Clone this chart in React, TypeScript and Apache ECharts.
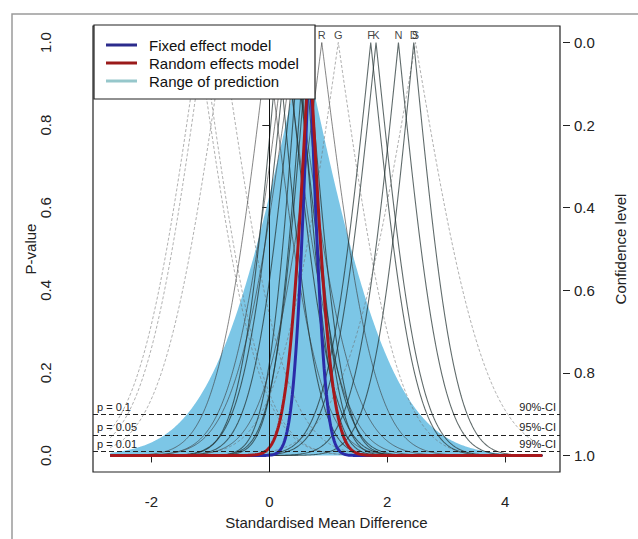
import React, { useEffect, useRef } from "react";
import * as echarts from "echarts";

// ---- data ----
// labels of studies whose peaks sit under the legend box are not visible in the picture
const studyLabels = ["", "", "", "", "", "", "", "", "", "", "", "", "R", "G", "F", "K", "N", "S", "D"];
const studyTE = [-1.2, -1.12, -0.78, -0.03, 0.27, 0.42, 0.3, 0.45, 0.5, 0.6, 0.15, 0.65, 0.89, 1.17, 1.72, 1.81, 2.19, 2.48, 2.45];
const studySE = [0.8, 0.78, 0.82, 0.67, 0.7, 0.75, 0.57, 0.56, 0.41, 0.41, 0.5, 0.45, 0.7, 0.8, 0.58, 0.58, 0.57, 0.95, 0.55];

const pooledNames = ["Fixed effect model", "Random effects model"];
const pooledTE = [0.68, 0.68];
const pooledSE = [0.2, 0.29];

const predictionName = "Range of prediction";
const predictionCenter = 0.58;
const predictionScale = 1.2;

const xDomain = [-2.7, 4.63];
const xTicks = [-2, 0, 2, 4];
const yTicks = [0, 0.2, 0.4, 0.6, 0.8, 1.0];
const pLevels = [0.1, 0.05, 0.01];
const pLevelLabels = ["p = 0.1", "p = 0.05", "p = 0.01"];
const ciLabels = ["90%-CI", "95%-CI", "99%-CI"];

// ---- helpers ----
const FONT = "Liberation Sans, Arial, Helvetica, sans-serif";

function erf(x: number): number {
  const s = x < 0 ? -1 : 1;
  const a = Math.abs(x);
  const t = 1 / (1 + 0.3275911 * a);
  const y =
    1 -
    ((((1.061405429 * t - 1.453152027) * t + 1.421413741) * t - 0.284496736) * t + 0.254829592) *
      t *
      Math.exp(-a * a);
  return s * y;
}
// two-sided p-value function of an estimate
function pValue(x: number, m: number, s: number): number {
  const z = Math.abs(x - m) / s;
  return Math.max(0, 1 - erf(z / Math.SQRT2));
}
function curve(m: number, s: number): number[][] {
  const xs: number[] = [];
  const n = Math.round((xDomain[1] - xDomain[0]) / 0.01);
  for (let i = 0; i <= n; i++) xs.push(+(xDomain[0] + i * 0.01).toFixed(4));
  xs.push(m);
  xs.sort((a, b) => a - b);
  return xs.map((x) => [x, pValue(x, m, s)]);
}

export default function App() {
  const ref = useRef<HTMLDivElement>(null);
  useEffect(() => {
    if (!ref.current) return;
    const chart = echarts.init(ref.current, undefined, { renderer: "svg" });

    const studySeries = studyTE.map((m, i) => {
      const s = studySE[i];
      const faint = s >= 0.78;
      const mid = s >= 0.65 && !faint;
      return {
        type: "line",
        name: "study" + i,
        data: curve(m, s),
        showSymbol: false,
        symbol: "none",
        silent: true,
        z: 2,
        lineStyle: faint
          ? { color: "rgba(110,110,110,0.55)", width: 1, type: [3, 2] }
          : mid
          ? { color: "rgba(60,60,60,0.62)", width: 1 }
          : { color: "rgba(35,50,50,0.72)", width: 1.1 },
      };
    });

    const pooledColors = ["#2B2BA8", "#A8181C"];
    const pooledSeries = pooledTE.map((m, i) => ({
      type: "line",
      name: pooledNames[i],
      data: curve(m, pooledSE[i]),
      showSymbol: false,
      symbol: "none",
      silent: true,
      z: 3 + i,
      lineStyle: { color: pooledColors[i], width: 3 },
    }));

    const markData: any[] = [
      { xAxis: 0, lineStyle: { type: "solid", color: "#111", width: 1 }, label: { show: false } },
    ];
    pLevels.forEach((p, i) => {
      markData.push({
        yAxis: p,
        label: { show: true, position: "insideStartTop", formatter: pLevelLabels[i] },
      });
      markData.push({
        yAxis: p,
        label: { show: true, position: "insideEndTop", formatter: ciLabels[i] },
      });
    });

    const labelled = studyTE
      .map((m, i) => ({ name: studyLabels[i], value: [m, 1.018] }))
      .filter((d) => d.name !== "");

    const option: any = {
      animation: false,
      textStyle: { fontFamily: FONT },
      grid: {
        show: true,
        left: 93,
        right: 78,
        top: 26,
        bottom: 67,
        borderColor: "#222",
        borderWidth: 1.2,
        backgroundColor: "transparent",
      },
      xAxis: {
        type: "value",
        min: -2.99,
        max: 4.93,
        offset: 3,
        axisLine: { show: false },
        splitLine: { show: false },
        axisTick: { show: true, length: 7, customValues: xTicks, lineStyle: { color: "#222" } },
        axisLabel: { customValues: xTicks, fontSize: 15, margin: 19, color: "#222", fontFamily: FONT },
        name: "Standardised Mean Difference",
        nameLocation: "middle",
        nameGap: 40,
        nameMoveOverlap: false,
        nameTextStyle: { fontSize: 15, color: "#222", fontFamily: FONT },
      },
      yAxis: [
        {
          type: "value",
          position: "left",
          min: -0.04,
          max: 1.04,
          offset: 3,
          axisLine: { show: false },
          splitLine: { show: false },
          axisTick: { show: true, length: 7, customValues: yTicks, lineStyle: { color: "#222" } },
          axisLabel: {
            customValues: yTicks,
            rotate: 90,
            fontSize: 15,
            margin: 37,
            color: "#222",
            fontFamily: FONT,
            formatter: (v: number) => v.toFixed(1),
          },
          name: "P-value",
          nameLocation: "middle",
          nameRotate: 90,
          nameGap: 52,
          nameMoveOverlap: false,
          nameTextStyle: { fontSize: 15, color: "#222", fontFamily: FONT },
        },
        {
          type: "value",
          position: "right",
          inverse: true,
          min: -0.04,
          max: 1.04,
          offset: 3,
          axisLine: { show: false },
          splitLine: { show: false },
          axisTick: { show: true, length: 7, customValues: yTicks, lineStyle: { color: "#222" } },
          axisLabel: {
            customValues: yTicks,
            fontSize: 15,
            margin: 11,
            color: "#222",
            fontFamily: FONT,
            formatter: (v: number) => v.toFixed(1),
          },
          name: "Confidence level",
          nameLocation: "middle",
          nameRotate: 90,
          nameGap: 50,
          nameMoveOverlap: false,
          nameTextStyle: { fontSize: 15, color: "#222", fontFamily: FONT },
        },
      ],
      series: [
        {
          type: "line",
          name: predictionName,
          data: curve(predictionCenter, predictionScale),
          showSymbol: false,
          symbol: "none",
          silent: true,
          z: 1,
          lineStyle: { width: 0, color: "#7CC6E6" },
          areaStyle: { color: "#7CC6E6", opacity: 1 },
        },
        ...studySeries,
        ...pooledSeries,
        {
          type: "line",
          data: [],
          z: 6,
          silent: true,
          markLine: {
            silent: true,
            symbol: "none",
            animation: false,
            lineStyle: { type: [5, 3], color: "#222", width: 1 },
            label: { fontSize: 11, color: "#222", fontFamily: FONT, distance: [4, 2] },
            data: markData,
          },
        },
        {
          type: "scatter",
          z: 7,
          silent: true,
          symbolSize: 1,
          itemStyle: { color: "transparent" },
          label: {
            show: true,
            position: "inside",
            formatter: (p: any) => p.name,
            fontSize: 11,
            color: "#111",
            fontFamily: FONT,
          },
          data: labelled,
        },
      ],
      graphic: [
        {
          type: "rect",
          z: -1,
          shape: { x: 12, y: 14, width: 700, height: 600 },
          style: { fill: "none", stroke: "#9a9a9a", lineWidth: 1.5 },
          silent: true,
        },
        {
          type: "group",
          z: 100,
          silent: true,
          children: [
            {
              type: "rect",
              z: 100,
              shape: { x: 94, y: 25, width: 221, height: 74 },
              style: { fill: "#fff", stroke: "#222", lineWidth: 1.2 },
            },
            ...[pooledNames[0], pooledNames[1], predictionName].flatMap((name, i) => [
              {
                type: "line",
                z: 101,
                shape: { x1: 106, y1: 45 + i * 18, x2: 137, y2: 45 + i * 18 },
                style: { stroke: ["#2B2B8C", "#9A1A1A", "#96C7CB"][i], lineWidth: 3 },
              },
              {
                type: "text",
                z: 101,
                x: 149,
                y: 45 + i * 18,
                style: {
                  text: name,
                  fontSize: 15,
                  fontFamily: FONT,
                  fill: "#111",
                  verticalAlign: "middle",
                  align: "left",
                },
              },
            ]),
          ],
        },
      ],
    };

    chart.setOption(option);
    return () => chart.dispose();
  }, []);

  return (
    <div
      ref={ref}
      style={{ position: "fixed", left: 0, top: 0, width: 638, height: 539, background: "#fff" }}
    />
  );
}
